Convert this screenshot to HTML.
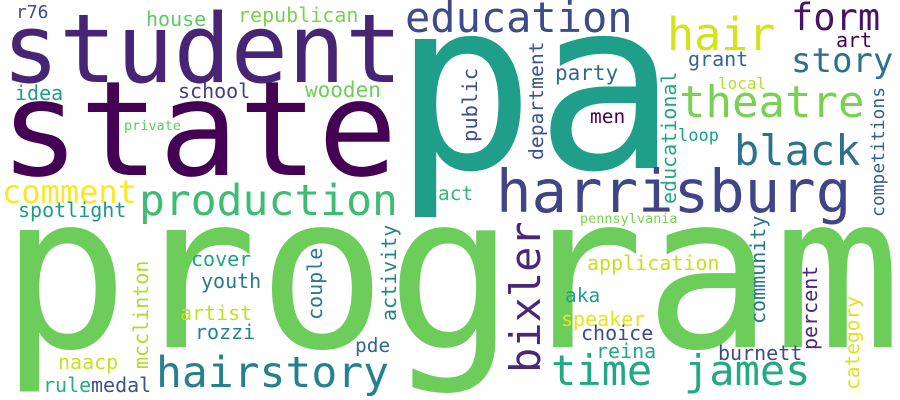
<!DOCTYPE html>
<html><head><meta charset="utf-8"><style>
html,body{margin:0;padding:0;background:#fff;}
svg{display:block;}
text{font-family:"DejaVu Sans Mono","Liberation Mono",monospace;}
</style></head><body>
<svg width="900" height="400" viewBox="0 0 900 400">
<rect width="900" height="400" fill="#fff"/>
<text x="0" y="347" font-size="214" fill="#6ccd5a">program</text>
<text x="393" y="168" font-size="236" fill="#1f9e89">pa</text>
<text x="0" y="175" font-size="132" fill="#440154">state</text>
<text x="2" y="82" font-size="95" fill="#482475">student</text>
<text x="496" y="212" font-size="59" fill="#414487">harrisburg</text>
<text x="405" y="32" font-size="42" fill="#3e4a89">education</text>
<text x="667" y="50" font-size="45" fill="#d2e21b">hair</text>
<text x="791" y="30" font-size="37" fill="#471365">form</text>
<text x="791" y="72" font-size="34" fill="#2c728e">story</text>
<text x="679" y="117" font-size="44" fill="#7ad151">theatre</text>
<text x="734" y="165" font-size="42" fill="#2c728e">black</text>
<text x="139" y="215" font-size="43" fill="#3fbc73">production</text>
<text x="2" y="203" font-size="32" fill="#fde725">comment</text>
<text x="18" y="217" font-size="20" fill="#1f9a8a">spotlight</text>
<text x="15" y="100" font-size="20" fill="#1f9e89">idea</text>
<text x="16" y="18" font-size="18" fill="#3e4a89">r76</text>
<text x="146" y="26" font-size="20" fill="#5ec962">house</text>
<text x="238" y="22" font-size="20" fill="#7ad151">republican</text>
<text x="178" y="98" font-size="20" fill="#433e85">school</text>
<text x="305" y="97" font-size="21" fill="#6ece58">wooden</text>
<text x="124" y="130" font-size="13.5" fill="#5ec962">private</text>
<text x="156" y="387" font-size="43" fill="#26818e">hairstory</text>
<text x="191" y="266" font-size="20" fill="#20a486">cover</text>
<text x="201" y="288" font-size="20" fill="#2a788e">youth</text>
<text x="180" y="320" font-size="20" fill="#c2df23">artist</text>
<text x="195" y="339" font-size="20" fill="#26828e">rozzi</text>
<text x="58" y="369" font-size="20" fill="#c8e020">naacp</text>
<text x="43" y="392" font-size="20" fill="#29af7f">rule</text>
<text x="91" y="392" font-size="20" fill="#3b528b">medal</text>
<text x="355" y="352" font-size="19.5" fill="#31688e">pde</text>
<text x="587" y="270" font-size="20" fill="#c8e020">application</text>
<text x="565" y="302" font-size="19.5" fill="#1f9e89">aka</text>
<text x="561" y="326" font-size="20" fill="#e5e419">speaker</text>
<text x="581" y="340" font-size="20" fill="#3e4a89">choice</text>
<text x="596" y="358" font-size="20" fill="#22a884">reina</text>
<text x="718" y="360" font-size="20" fill="#3e4a89">burnett</text>
<text x="551" y="385" font-size="42" fill="#22a884">time</text>
<text x="684" y="385" font-size="42" fill="#23a983">james</text>
<text x="580" y="223" font-size="13.5" fill="#7ad151">pennsylvania</text>
<text x="438" y="200" font-size="19.5" fill="#35b779">act</text>
<text x="555" y="80" font-size="21" fill="#31688e">party</text>
<text x="590" y="123" font-size="19.5" fill="#440154">men</text>
<text x="678" y="141" font-size="17" fill="#1f9e89">loop</text>
<text x="688" y="66" font-size="20" fill="#31688e">grant</text>
<text x="718" y="89" font-size="16" fill="#b5de2b">local</text>
<text x="836" y="47" font-size="20" fill="#440154">art</text>
<text transform="translate(148,369) rotate(-90)" font-size="20" fill="#addc30">mcclinton</text>
<text transform="translate(322,320) rotate(-90)" font-size="20" fill="#2a788e">couple</text>
<text transform="translate(396,321) rotate(-90)" font-size="20" fill="#26828e">activity</text>
<text transform="translate(540,373) rotate(-90)" font-size="42" fill="#482878">bixler</text>
<text transform="translate(765,324) rotate(-90)" font-size="20" fill="#2a788e">community</text>
<text transform="translate(817,350) rotate(-90)" font-size="20" fill="#482878">percent</text>
<text transform="translate(859,390) rotate(-90)" font-size="19.5" fill="#dde318">category</text>
<text transform="translate(477,142) rotate(-90)" font-size="20.5" fill="#3b528b">public</text>
<text transform="translate(543,160) rotate(-90)" font-size="19.7" fill="#3b528b">department</text>
<text transform="translate(676,204) rotate(-90)" font-size="20" fill="#22a884">educational</text>
<text transform="translate(884,217) rotate(-90)" font-size="18" fill="#35608d">competitions</text>
</svg>
</body></html>
